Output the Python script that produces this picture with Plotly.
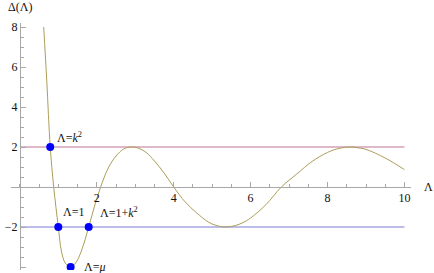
import plotly.graph_objects as go

# Curve Δ(Λ)
lam = [0.62, 0.70, 0.79, 0.88, 1.00, 1.08, 1.18, 1.32, 1.45, 1.60, 1.79, 1.95,
       2.10, 2.30, 2.50, 2.70, 2.90, 3.10, 3.30, 3.50, 3.75, 4.00, 4.30, 4.60,
       4.90, 5.10, 5.35, 5.60, 5.80, 6.00, 6.40, 6.80, 7.20, 7.60, 8.00, 8.30,
       8.57, 8.80, 9.00, 9.50, 10.0]
delta = [8.0, 5.3, 2.0, 0.0, -2.0, -3.2, -3.8, -4.0, -3.8, -3.2, -2.0, -0.9,
         0.0, 0.95, 1.55, 1.9, 2.0, 1.93, 1.7, 1.3, 0.7, 0.0, -0.75, -1.3,
         -1.75, -1.92, -2.0, -1.93, -1.78, -1.55, -0.88, 0.0, 0.65, 1.28, 1.73, 1.93,
         2.0, 1.96, 1.88, 1.45, 0.87]

# Horizontal band-edge levels
level_x = [0, 10]
level_upper = [2, 2]
level_lower = [-2, -2]

# Marked points
pt_x = [0.79, 1.00, 1.32, 1.79]
pt_y = [2, -2, -4, -2]
pt_labels = ["Λ=<i>k</i><sup>2</sup>", "Λ=1", "Λ=<i>μ</i>", "Λ=1+<i>k</i><sup>2</sup>"]
pt_shift = [(5, 10), (3, 15), (11, 0), (9, 15)]

x_ticks = [2, 4, 6, 8, 10]
y_ticks = [-4, -2, 2, 4, 6, 8]

xmin, xmax = -0.23, 10.17
ymin, ymax = -4.15, 8.2

font = "Liberation Serif, DejaVu Serif, serif"
fsize = 12
axis_col = "#a8a8a8"

fig = go.Figure()
fig.add_trace(go.Scatter(x=level_x, y=level_upper, mode="lines",
                         line=dict(color="#bc7496", width=1.1), hoverinfo="skip"))
fig.add_trace(go.Scatter(x=level_x, y=level_lower, mode="lines",
                         line=dict(color="#7c7cd4", width=1.1), hoverinfo="skip"))
fig.add_trace(go.Scatter(x=lam, y=delta, mode="lines",
                         line=dict(color="#ad9d58", width=1.0, shape="spline", smoothing=1.0)))
fig.add_trace(go.Scatter(x=pt_x, y=pt_y, mode="markers",
                         marker=dict(color="#0000ff", size=8)))

for x, y, t, (dx, dy) in zip(pt_x, pt_y, pt_labels, pt_shift):
    fig.add_annotation(x=x, y=y, xref="x", yref="y", text=t, showarrow=False,
                       xanchor="left", yanchor="middle", xshift=dx, yshift=dy,
                       font=dict(family=font, size=fsize, color="#111"))

fig.add_annotation(x=0, y=1, xref="x", yref="paper", text="Δ(Λ)", showarrow=False,
                   xanchor="center", yanchor="middle", yshift=16,
                   font=dict(family=font, size=fsize, color="#111"))
fig.add_annotation(x=1, y=0, xref="paper", yref="y", text="Λ", showarrow=False,
                   xanchor="center", yanchor="middle", xshift=17,
                   font=dict(family=font, size=fsize, color="#111"))

fig.update_layout(
    width=434, height=273,
    margin=dict(l=11, r=22.5, t=23.3, b=2.7),
    paper_bgcolor="white", plot_bgcolor="white",
    showlegend=False,
    font=dict(family=font, size=fsize, color="#111"),
    xaxis=dict(range=[xmin, xmax], anchor="free",
               position=(0 - ymin) / (ymax - ymin),
               showline=True, linecolor=axis_col, linewidth=1,
               showgrid=False, zeroline=False,
               tickvals=x_ticks, ticks="inside", ticklen=5, tickcolor=axis_col,
               tickfont=dict(family=font, size=fsize, color="#111"),
               minor=dict(dtick=0.5, tick0=0, ticks="inside", ticklen=3, tickcolor=axis_col),
               automargin=False),
    yaxis=dict(range=[ymin, ymax], anchor="free",
               position=(0 - xmin) / (xmax - xmin),
               showline=True, linecolor=axis_col, linewidth=1,
               showgrid=False, zeroline=False,
               tickvals=y_ticks, ticks="inside", ticklen=5, tickcolor=axis_col,
               tickfont=dict(family=font, size=fsize, color="#111"),
               minor=dict(dtick=0.5, tick0=0, ticks="inside", ticklen=3, tickcolor=axis_col),
               automargin=False),
)

fig.write_html("out.html", config={"displayModeBar": False},
               post_script="document.body.style.margin='0';document.body.style.padding='0';")
